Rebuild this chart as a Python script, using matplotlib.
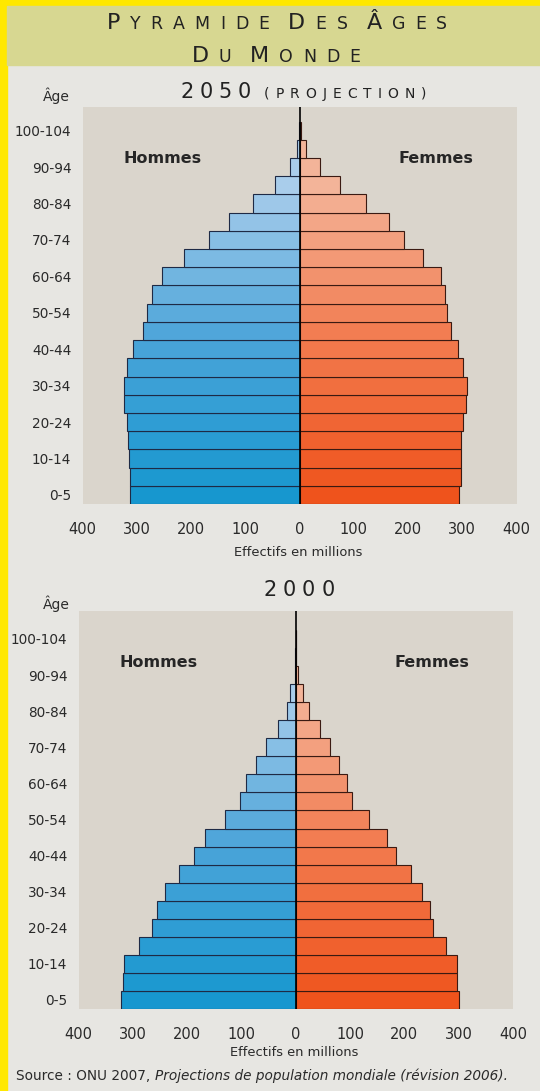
import matplotlib.pyplot as plt
import numpy as np
from matplotlib.colors import LinearSegmentedColormap
from matplotlib.patches import Rectangle

W, H = 540, 1091

# groupes d'âge 0-4 ... 100-104 (21 classes), une étiquette sur deux
age_labels = ['0-5', '10-14', '20-24', '30-34', '40-44', '50-54',
              '60-64', '70-74', '80-84', '90-94', '100-104']

# effectifs en millions
hommes_2050 = [312, 313, 315, 316, 318, 323, 323, 318, 306, 289, 281,
               272, 253, 213, 166, 130, 86, 45, 18, 5, 1]
femmes_2050 = [294, 297, 298, 298, 302, 307, 308, 302, 292, 279, 272,
               268, 260, 227, 192, 165, 123, 75, 37, 12, 2]
hommes_2000 = [321, 318, 316, 289, 264, 255, 241, 215, 187, 167, 130,
               103, 91, 74, 55, 33, 16, 10, 2, 0.5, 0.1]
femmes_2000 = [300, 297, 297, 277, 252, 247, 233, 212, 184, 168, 134,
               104, 95, 79, 63, 45, 24, 14, 5, 1, 0.2]

cmap_h = LinearSegmentedColormap.from_list('h', ['#1797cf', '#4aa4d9', '#a9cdeb'])
cmap_f = LinearSegmentedColormap.from_list('f', ['#ef531c', '#f27a4e', '#f3b499'])

plt.rcParams['font.family'] = 'DejaVu Sans'
txt = '#2a2a2a'

fig = plt.figure(figsize=(W / 100, H / 100), dpi=100)
fig.patch.set_facecolor('#e7e6e2')

# cadre jaune + bandeau titre
fig.patches.append(Rectangle((0, 0), 7 / W, 1, transform=fig.transFigure,
                             color='#ffe800', zorder=0))
fig.patches.append(Rectangle((0, 1 - 6 / H), 1, 6 / H, transform=fig.transFigure,
                             color='#ffe800', zorder=0))
fig.patches.append(Rectangle((7 / W, 1 - 65 / H), 1, 59 / H, transform=fig.transFigure,
                             color='#d7d791', zorder=0))

renderer = fig.canvas.get_renderer()


def spaced(xc, y_base, parts, track, color='#222222'):
    # petites capitales avec interlettrage, centrées en xc (px)
    items = []
    total = 0
    for s, fs in parts:
        for ch in s:
            if ch == ' ':
                items.append((None, fs * 0.7))
                total += fs * 0.7
                continue
            t = fig.text(0, 1 - y_base / H, ch, fontsize=fs, color=color,
                         va='baseline', ha='left')
            w = t.get_window_extent(renderer).width
            items.append((t, w))
            total += w + track
    total -= track
    x = xc - total / 2
    for t, w in items:
        if t is None:
            x += w
            continue
        t.set_x(x / W)
        x += w + track


spaced(277, 29, [('P', 16), ('YRAMIDE', 12.5), (' ', 13), ('D', 16), ('ES', 12.5),
                 (' ', 13), ('Â', 16), ('GES', 12.5)], 10)
spaced(276, 62, [('D', 16), ('U', 12.5), (' ', 13), ('M', 16), ('ONDE', 12.5)], 10)
spaced(303, 98, [('2050', 15), (' ', 10), ('(PROJECTION)', 10)], 6)
spaced(299, 596, [('2000', 15)], 6)


def pyramide(ax, hommes, femmes, ytop):
    n = len(hommes)
    y = np.arange(n)
    t = np.clip(y / 17, 0, 1)
    ax.barh(y, -np.array(hommes), height=1.0, color=cmap_h(t),
            edgecolor='#1e2a45', linewidth=0.8, zorder=2)
    ax.barh(y, femmes, height=1.0, color=cmap_f(t),
            edgecolor='#3a1a12', linewidth=0.8, zorder=2)
    ax.axvline(0, color='black', lw=1.2, zorder=3)
    ax.set_facecolor('#dad5cc')
    ax.set_xlim(-400, 400)
    ax.set_ylim(-0.5, ytop)
    ticks = [-400, -300, -200, -100, 0, 100, 200, 300, 400]
    ax.set_xticks(ticks)
    ax.set_xticklabels([str(abs(v)) for v in ticks], fontsize=10.5, color=txt)
    ax.set_yticks(np.arange(0, n, 2))
    ax.set_yticklabels(age_labels, fontsize=9.8, color=txt)
    ax.tick_params(length=0)
    ax.tick_params(axis='x', pad=13)
    ax.tick_params(axis='y', pad=8)
    for s in ax.spines.values():
        s.set_visible(False)
    ax.text(0.185, 0.87, 'Hommes', transform=ax.transAxes, ha='center', va='center',
            fontweight='bold', fontsize=11.5, color='#262626')
    ax.text(0.814, 0.87, 'Femmes', transform=ax.transAxes, ha='center', va='center',
            fontweight='bold', fontsize=11.5, color='#262626')


ax1 = fig.add_axes([82.5 / W, 1 - 504 / H, 434 / W, 397 / H])
pyramide(ax1, hommes_2050, femmes_2050, 21.3)
ax2 = fig.add_axes([78.5 / W, 1 - 1009 / H, 434.5 / W, 398 / H])
pyramide(ax2, hommes_2000, femmes_2000, 21.55)

for yc in (96, 604):
    fig.text(56 / W, 1 - yc / H, 'Âge', ha='center', va='center', fontsize=10,
             color=txt)

fig.text(298 / W, 1 - 553 / H, 'Effectifs en millions', ha='center', va='center',
         fontsize=9.4, color=txt)
fig.text(294 / W, 1 - 1053 / H, 'Effectifs en millions', ha='center', va='center',
         fontsize=9.4, color=txt)

# source : partie droite en italique
t1 = fig.text(16 / W, 1 - 1076 / H, 'Source : ONU 2007, ', ha='left', va='center',
              fontsize=9.8, color=txt)
w1 = t1.get_window_extent(renderer).width
fig.text((16 + w1) / W, 1 - 1076 / H,
         'Projections de population mondiale (révision 2006).',
         ha='left', va='center', style='italic', fontsize=9.8, color=txt)

fig.savefig('out.png', dpi=100, facecolor=fig.get_facecolor())
